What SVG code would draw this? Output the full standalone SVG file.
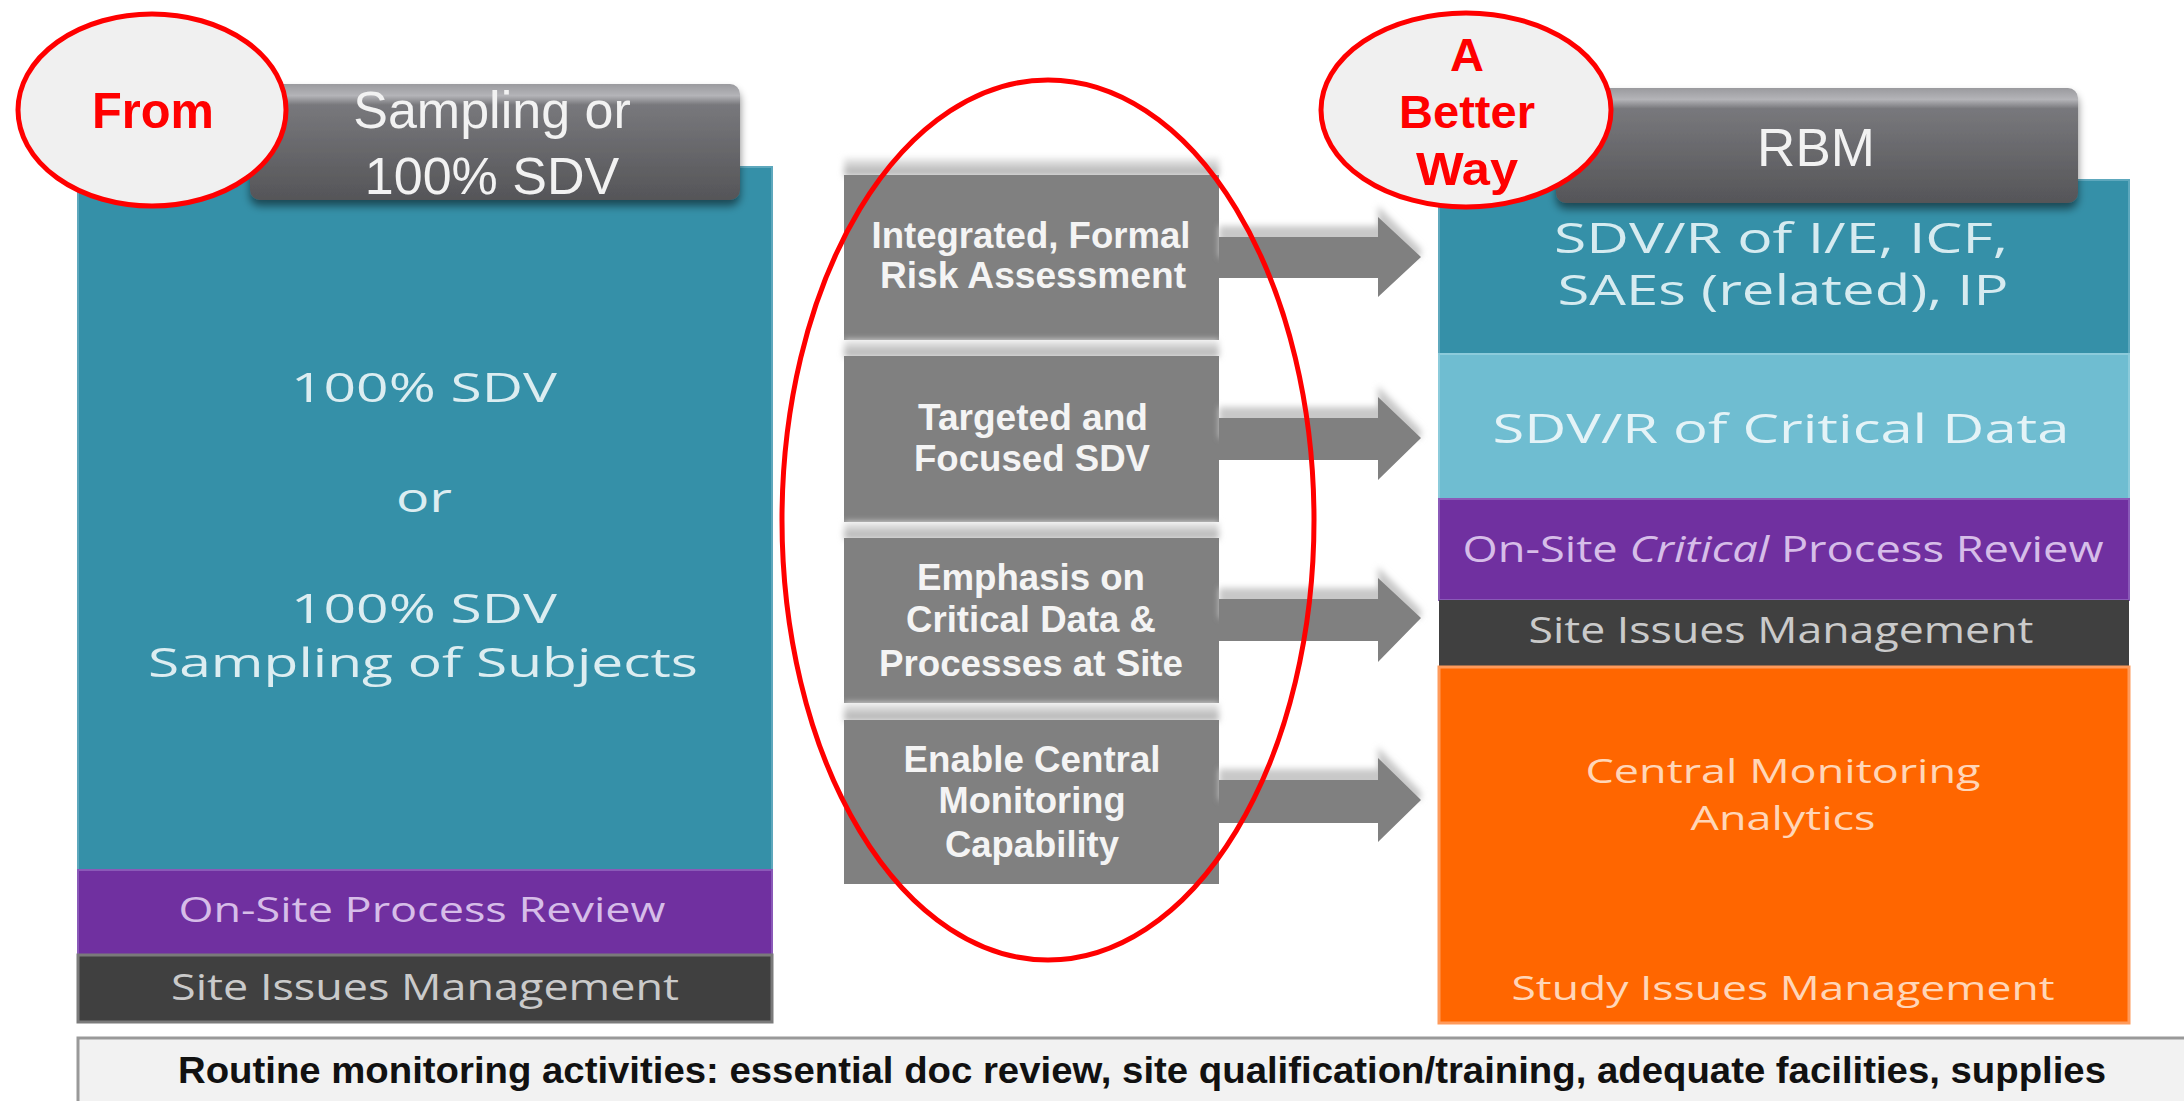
<svg xmlns="http://www.w3.org/2000/svg" width="2184" height="1101" viewBox="0 0 2184 1101">
<defs>
<linearGradient id="tabG" x1="0" y1="0" x2="0" y2="1">
<stop offset="0" stop-color="#9a9a9e"/>
<stop offset="0.1" stop-color="#b4b4b8"/>
<stop offset="0.18" stop-color="#78787c"/>
<stop offset="1" stop-color="#555558"/>
</linearGradient>
<linearGradient id="glowG" x1="0" y1="0" x2="0" y2="1">
<stop offset="0" stop-color="#ececec"/>
<stop offset="1" stop-color="#a8a8a8"/>
</linearGradient>
<filter id="sh" x="-10%" y="-10%" width="120%" height="130%">
<feGaussianBlur in="SourceAlpha" stdDeviation="4"/>
<feOffset dx="0" dy="6" result="b"/>
<feComponentTransfer><feFuncA type="linear" slope="0.5"/></feComponentTransfer>
<feMerge><feMergeNode/><feMergeNode in="SourceGraphic"/></feMerge>
</filter>
<filter id="blur" x="-10%" y="-50%" width="120%" height="200%">
<feGaussianBlur stdDeviation="3"/>
</filter>
</defs>
<style>
.seg{font-family:"Open Sans","Noto Sans","DejaVu Sans",sans-serif;text-anchor:middle}
.ar{font-family:"Liberation Sans",Arial,sans-serif;text-anchor:middle}
.mid{font-family:"Liberation Sans",Arial,sans-serif;font-weight:bold;font-size:37px;fill:#f4f4f4;text-anchor:middle}
.red{font-family:"Liberation Sans",Arial,sans-serif;font-weight:bold;fill:#ff0000;text-anchor:middle}
.ring{fill:#f0f0f0;stroke:#ff0000;stroke-width:5}
.mbox{fill:#808080}
.arrow{fill:#808080}
</style>
<rect width="2184" height="1101" fill="#ffffff"/>

<!-- Left column -->
<g id="left-box">
<rect x="78" y="167" width="694" height="703" fill="#3590a8" stroke="#5ea8bd" stroke-width="2"/>
<text class="seg" x="424" y="402" font-size="41" fill="#dcedf1" textLength="266" lengthAdjust="spacingAndGlyphs">100% SDV</text>
<text class="seg" x="424" y="512" font-size="41" fill="#dcedf1" textLength="56" lengthAdjust="spacingAndGlyphs">or</text>
<text class="seg" x="424" y="623" font-size="41" fill="#dcedf1" textLength="266" lengthAdjust="spacingAndGlyphs">100% SDV</text>
<text class="seg" x="423" y="677" font-size="41" fill="#dcedf1" textLength="550" lengthAdjust="spacingAndGlyphs">Sampling of Subjects</text>
</g>
<g id="left-purple">
<rect x="78" y="870" width="694" height="85" fill="#7030a0" stroke="#8a5ab8" stroke-width="2"/>
<text class="seg" x="422" y="922" font-size="35" fill="#d6bde8" textLength="487" lengthAdjust="spacingAndGlyphs">On-Site Process Review</text>
</g>
<g id="left-site">
<rect x="78" y="955" width="694" height="67" fill="#404040" stroke="#7a7a7a" stroke-width="3"/>
<text class="seg" x="425" y="1000" font-size="36" fill="#cacaca" textLength="508" lengthAdjust="spacingAndGlyphs">Site Issues Management</text>
</g>
<g id="left-tab" filter="url(#sh)">
<rect x="250" y="84" width="490" height="116" rx="10" fill="url(#tabG)"/>
<text class="ar" x="492" y="128" font-size="52" fill="#f2f2f2">Sampling or</text>
<text class="ar" x="492" y="194" font-size="52" fill="#f2f2f2">100% SDV</text>
</g>
<g id="from">
<ellipse class="ring" cx="152" cy="110" rx="134" ry="96"/>
<text class="red" x="153" y="128" font-size="50" textLength="122" lengthAdjust="spacingAndGlyphs">From</text>
</g>

<!-- Middle column boxes -->
<g id="box1">
<rect x="844" y="158" width="375" height="18" fill="url(#glowG)" filter="url(#blur)"/>
<rect class="mbox" x="844" y="175" width="375" height="165"/>
<text class="mid" x="1031" y="248" textLength="319" lengthAdjust="spacingAndGlyphs">Integrated, Formal</text>
<text class="mid" x="1033" y="288" textLength="306" lengthAdjust="spacingAndGlyphs">Risk Assessment</text>
</g>
<g id="box2">
<rect x="844" y="340" width="375" height="17" fill="url(#glowG)" filter="url(#blur)"/>
<rect class="mbox" x="844" y="356" width="375" height="166"/>
<text class="mid" x="1033" y="430" textLength="230" lengthAdjust="spacingAndGlyphs">Targeted and</text>
<text class="mid" x="1032" y="471" textLength="236" lengthAdjust="spacingAndGlyphs">Focused SDV</text>
</g>
<g id="box3">
<rect x="844" y="522" width="375" height="17" fill="url(#glowG)" filter="url(#blur)"/>
<rect class="mbox" x="844" y="538" width="375" height="165"/>
<text class="mid" x="1031" y="590" textLength="228" lengthAdjust="spacingAndGlyphs">Emphasis on</text>
<text class="mid" x="1031" y="632" textLength="250" lengthAdjust="spacingAndGlyphs">Critical Data &amp;</text>
<text class="mid" x="1031" y="676" textLength="304" lengthAdjust="spacingAndGlyphs">Processes at Site</text>
</g>
<g id="box4">
<rect x="844" y="703" width="375" height="18" fill="url(#glowG)" filter="url(#blur)"/>
<rect class="mbox" x="844" y="720" width="375" height="164"/>
<text class="mid" x="1032" y="772" textLength="257" lengthAdjust="spacingAndGlyphs">Enable Central</text>
<text class="mid" x="1032" y="813" textLength="187" lengthAdjust="spacingAndGlyphs">Monitoring</text>
<text class="mid" x="1032" y="857" textLength="174" lengthAdjust="spacingAndGlyphs">Capability</text>
</g>

<!-- Connectors -->
<g id="connectors">
<g fill="#c8c8c8" filter="url(#blur)">
<polygon points="1219,226 1378,226 1378,206 1421,249 1421,257 1219,257"/>
<polygon points="1219,407 1378,407 1378,386 1421,430 1421,438 1219,438"/>
<polygon points="1219,588 1378,588 1378,567 1421,610 1421,618 1219,618"/>
<polygon points="1219,769 1378,769 1378,747 1421,792 1421,800 1219,800"/>
</g>
<polygon class="arrow" points="1219,237 1378,237 1378,217 1421,257 1378,297 1378,278 1219,278"/>
<polygon class="arrow" points="1219,418 1378,418 1378,397 1421,438 1378,480 1378,460 1219,460"/>
<polygon class="arrow" points="1219,599 1378,599 1378,578 1421,618 1378,662 1378,641 1219,641"/>
<polygon class="arrow" points="1219,780 1378,780 1378,758 1421,800 1378,842 1378,823 1219,823"/>
</g>

<!-- Right column -->
<g id="right-top">
<rect x="1439" y="180" width="690" height="174" fill="#3590a8" stroke="#5ea8bd" stroke-width="2"/>
<text class="seg" x="1781" y="253" font-size="42" fill="#d6ebf0" textLength="454" lengthAdjust="spacingAndGlyphs">SDV/R of I/E, ICF,</text>
<text class="seg" x="1783" y="305" font-size="42" fill="#d6ebf0" textLength="451" lengthAdjust="spacingAndGlyphs">SAEs (related), IP</text>
</g>
<g id="right-critical">
<rect x="1439" y="354" width="690" height="145" fill="#6fbdd1" stroke="#8ccbdb" stroke-width="2"/>
<text class="seg" x="1781" y="443" font-size="41" fill="#e4f3f7" textLength="577" lengthAdjust="spacingAndGlyphs">SDV/R of Critical Data</text>
</g>
<g id="right-purple">
<rect x="1439" y="499" width="690" height="101" fill="#7030a0" stroke="#8a5ab8" stroke-width="2"/>
<text class="seg" x="1783" y="562" font-size="36" fill="#d6bde8" textLength="641" lengthAdjust="spacingAndGlyphs">On-Site <tspan font-style="italic">Critical</tspan> Process Review</text>
</g>
<g id="right-site">
<rect x="1439" y="600" width="690" height="67" fill="#404040"/>
<text class="seg" x="1781" y="643" font-size="36" fill="#cacaca" textLength="505" lengthAdjust="spacingAndGlyphs">Site Issues Management</text>
</g>
<g id="right-orange">
<rect x="1439" y="667" width="690" height="356" fill="#ff6600" stroke="#ff9a5a" stroke-width="3"/>
<text class="seg" x="1783" y="783" font-size="32" fill="#ffd6b8" textLength="395" lengthAdjust="spacingAndGlyphs">Central Monitoring</text>
<text class="seg" x="1783" y="830" font-size="32" fill="#ffd6b8" textLength="185" lengthAdjust="spacingAndGlyphs">Analytics</text>
<text class="seg" x="1783" y="1000" font-size="32" fill="#ffd6b8" textLength="543" lengthAdjust="spacingAndGlyphs">Study Issues Management</text>
</g>
<g id="right-tab" filter="url(#sh)">
<rect x="1556" y="88" width="522" height="115" rx="10" fill="url(#tabG)"/>
<text class="ar" x="1816" y="166" font-size="53" fill="#f2f2f2">RBM</text>
</g>
<g id="better-way">
<ellipse class="ring" cx="1466" cy="110" rx="145" ry="97"/>
<text class="red" x="1467" y="71" font-size="47">A</text>
<text class="red" x="1467" y="128" font-size="47" textLength="136" lengthAdjust="spacingAndGlyphs">Better</text>
<text class="red" x="1467" y="185" font-size="47" textLength="102" lengthAdjust="spacingAndGlyphs">Way</text>
</g>

<!-- Big red ellipse -->
<g id="highlight">
<ellipse cx="1048" cy="520" rx="266" ry="440" fill="none" stroke="#ff0000" stroke-width="5"/>
</g>

<!-- Bottom bar -->
<g id="routine">
<rect x="78" y="1038" width="2120" height="80" fill="#f2f2f2" stroke="#999999" stroke-width="3"/>
<text class="ar" x="1142" y="1083" font-size="37" font-weight="bold" fill="#111111" textLength="1928" lengthAdjust="spacingAndGlyphs">Routine monitoring activities: essential doc review, site qualification/training, adequate facilities, supplies</text>
</g>
</svg>
